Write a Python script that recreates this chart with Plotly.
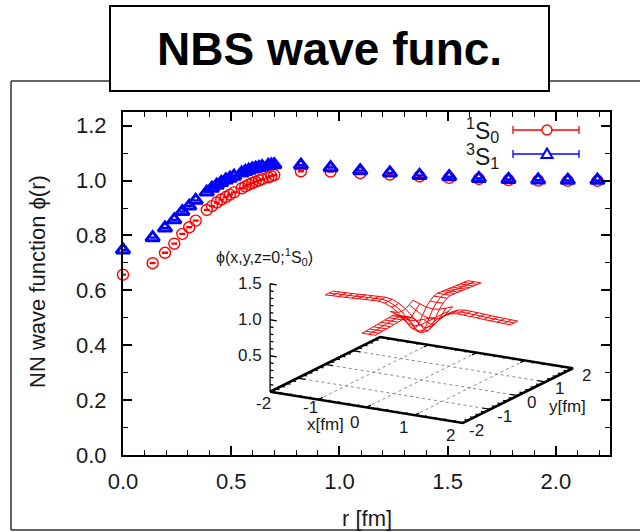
import numpy as np
import plotly.graph_objects as go

W, H = 640, 532
ML, MR, MT, MB = 123, 30, 112, 77
PW, PH = W - ML - MR, H - MT - MB


def PX(x):
    return (x - ML) / PW


def PY(y):
    return (H - MB - y) / PH


# ---------------- data ----------------
r_fm = [0.000, 0.137, 0.194, 0.237, 0.274, 0.306, 0.336, 0.387, 0.411, 0.433,
        0.454, 0.475, 0.494, 0.513, 0.548, 0.565, 0.581, 0.597, 0.613, 0.628,
        0.643, 0.671, 0.685, 0.699, 0.822, 0.959, 1.096, 1.233, 1.370, 1.507,
        1.644, 1.781, 1.918, 2.055, 2.192]
phi_1S0 = [0.657, 0.699, 0.737, 0.770, 0.806, 0.830, 0.854, 0.893, 0.907, 0.920,
           0.931, 0.940, 0.949, 0.957, 0.972, 0.979, 0.985, 0.991, 0.996, 1.001,
           1.005, 1.012, 1.016, 1.020, 1.034, 1.033, 1.027, 1.022, 1.015, 1.010,
           1.006, 1.002, 1.000, 0.999, 0.999]
phi_3S1 = [0.747, 0.792, 0.827, 0.857, 0.887, 0.907, 0.928, 0.958, 0.972, 0.983,
           0.993, 1.002, 1.009, 1.016, 1.028, 1.033, 1.038, 1.042, 1.045, 1.048,
           1.051, 1.055, 1.057, 1.058, 1.056, 1.047, 1.036, 1.028, 1.019, 1.014,
           1.008, 1.004, 1.002, 1.001, 1.001]
err_1S0 = [0.002] * len(r_fm)
err_3S1 = [0.002] * len(r_fm)

x_ticks = [0.0, 0.5, 1.0, 1.5, 2.0]
x_ticktext = ["0.0", "0.5", "1.0", "1.5", "2.0"]
y_ticks = [0.0, 0.2, 0.4, 0.6, 0.8, 1.0, 1.2]
y_ticktext = ["0.0", "0.2", "0.4", "0.6", "0.8", "1.0", "1.2"]

# inset: lattice of the z=0 plane (spacing in fm, half number of sites)
lat_a = 0.137
lat_n = 14
inset_z_ticks = [0.5, 1.0, 1.5]
inset_xy_ticks = [-2, -1, 0, 1, 2]

RED = "#ff0000"
BLUE = "#0000ff"
TXT = "#1a1a1a"
FONT = "Liberation Sans, Arial, Helvetica, sans-serif"

# ---------------- inset view (orthographic, like gnuplot "set view") --------
view_azim = np.radians(-60.3)
view_elev = np.radians(16.5)
scale_xy = 55.5      # px per fm
scale_z = 75.1       # px per unit of phi
ORIGIN = (421.5, 380.0)   # pixel position of (0,0,0) inside the figure


def proj(x, y, z):
    """project 3D inset coordinates to the (u, v) inset axis (pixels, v up)."""
    if x is None:
        return None, None
    sa, ca = np.sin(view_azim), np.cos(view_azim)
    se, ce = np.sin(view_elev), np.cos(view_elev)
    u = -sa * scale_xy * x + ca * scale_xy * y
    v = -ca * se * scale_xy * x - sa * se * scale_xy * y + ce * scale_z * z
    return float(u), float(v)


def proj_list(xs, ys, zs):
    us, vs = [], []
    for a, b, c in zip(xs, ys, zs):
        u, v = proj(a, b, c)
        us.append(u); vs.append(v)
    return us, vs


fig = go.Figure()

# ---------------- main data ----------------
fig.add_trace(go.Scatter(
    x=r_fm, y=phi_1S0, mode="markers", name="1S0",
    marker=dict(symbol="circle-open", size=11, color=RED, line=dict(width=1.4, color=RED)),
    error_y=dict(type="data", array=err_1S0, visible=True, color=RED, thickness=1.2, width=3),
    cliponaxis=False, showlegend=False))
fig.add_trace(go.Scatter(
    x=r_fm, y=phi_3S1, mode="markers", name="3S1",
    marker=dict(symbol="triangle-up-open", size=12, color=BLUE, line=dict(width=3, color=BLUE)),
    error_y=dict(type="data", array=err_3S1, visible=True, color=BLUE, thickness=1.2, width=3),
    cliponaxis=False, showlegend=False))

# ---------------- inset: base plane, grid, ticks, z axis ----------------
bx = [-2, 2, 2, -2, -2]
by = [-2, -2, 2, 2, -2]
floor_u, floor_v = proj_list(bx, by, [0] * 5)

gx, gy, gz = [], [], []
for t in inset_xy_ticks[1:-1]:
    gx += [t, t, None, -2, 2, None]
    gy += [-2, 2, None, t, t, None]
    gz += [0, 0, None, 0, 0, None]
grid_u, grid_v = proj_list(gx, gy, gz)

tx, ty, tz = [], [], []
for k in range(-10, 11):
    t = k * 0.2
    L = 0.16 if k % 5 == 0 else 0.08
    for e in (-2, 2):
        s = 1 if e == -2 else -1
        tx += [t, t, None]; ty += [e, e + s * L, None]; tz += [0, 0, None]
        tx += [e, e + s * L, None]; ty += [t, t, None]; tz += [0, 0, None]
for k in range(0, 16):
    t = k * 0.1
    L = 0.14 if k % 5 == 0 else 0.07
    tx += [-2, -2 + L, None]; ty += [-2, -2, None]; tz += [t, t, None]
tx += [-2, -2, None]; ty += [-2, -2, None]; tz += [0, 1.5, None]
tick_u, tick_v = proj_list(tx, ty, tz)

fig.add_trace(go.Scatter(x=grid_u, y=grid_v, mode="lines", xaxis="x2", yaxis="y2",
                         line=dict(color="#8a8a8a", width=1, dash="dot"),
                         hoverinfo="skip", showlegend=False))
fig.add_trace(go.Scatter(x=tick_u, y=tick_v, mode="lines", xaxis="x2", yaxis="y2",
                         line=dict(color="black", width=1.3),
                         hoverinfo="skip", showlegend=False))
fig.add_trace(go.Scatter(x=floor_u, y=floor_v, mode="lines", xaxis="x2", yaxis="y2",
                         line=dict(color="black", width=2.6),
                         hoverinfo="skip", showlegend=False))

# ---------------- inset: wire frame of phi(x,y,0) ----------------
r_arr = np.array(r_fm)
p_arr = np.array(phi_1S0)


def phi_site(i, j):
    rr = lat_a * np.hypot(i, j)
    return float(p_arr[np.argmin(np.abs(r_arr - rr))])


def inside(i, j):
    return abs(j) <= 1 or abs(i) <= 1 or (abs(i) <= 3 and abs(j) <= 3)


wx, wy, wz = [], [], []
idx = range(-lat_n, lat_n + 1)
for j in idx:
    for i in idx:
        if inside(i, j):
            wx.append(i * lat_a); wy.append(j * lat_a); wz.append(phi_site(i, j))
        else:
            wx.append(None); wy.append(None); wz.append(None)
    wx.append(None); wy.append(None); wz.append(None)
for i in idx:
    for j in idx:
        if inside(i, j):
            wx.append(i * lat_a); wy.append(j * lat_a); wz.append(phi_site(i, j))
        else:
            wx.append(None); wy.append(None); wz.append(None)
    wx.append(None); wy.append(None); wz.append(None)
wire_u, wire_v = proj_list(wx, wy, wz)
fig.add_trace(go.Scatter(x=wire_u, y=wire_v, mode="lines", xaxis="x2", yaxis="y2",
                         line=dict(color=RED, width=1), connectgaps=False,
                         hoverinfo="skip", showlegend=False))

shapes = []
# outer slide frame
for (x0, y0, x1, y1) in [(11, 81, 11, 530), (11, 81, 645, 81), (11, 530, 645, 530)]:
    shapes.append(dict(type="line", xref="paper", yref="paper",
                       x0=PX(x0), y0=PY(y0), x1=PX(x1), y1=PY(y1),
                       line=dict(color="#333333", width=1.5), layer="above"))
# title box
shapes.append(dict(type="rect", xref="paper", yref="paper",
                   x0=PX(110), y0=PY(91), x1=PX(549), y1=PY(6),
                   fillcolor="white", line=dict(color="black", width=2), layer="above"))
# legend samples
for yy, col in [(130, RED), (154, BLUE)]:
    shapes.append(dict(type="line", xref="paper", yref="paper",
                       x0=PX(513), y0=PY(yy), x1=PX(579), y1=PY(yy),
                       line=dict(color=col, width=1.3)))
    for xx in (513, 579):
        shapes.append(dict(type="line", xref="paper", yref="paper",
                           x0=PX(xx), y0=PY(yy - 4), x1=PX(xx), y1=PY(yy + 4),
                           line=dict(color=col, width=1.3)))
shapes.append(dict(type="circle", xref="paper", yref="paper",
                   xsizemode="pixel", ysizemode="pixel",
                   xanchor=PX(547), yanchor=PY(130), x0=-5, x1=5, y0=-5, y1=5,
                   line=dict(color=RED, width=1.4), fillcolor="white"))
shapes.append(dict(type="path", xref="paper", yref="paper",
                   xsizemode="pixel", ysizemode="pixel",
                   xanchor=PX(547), yanchor=PY(154),
                   path="M -5.5 -4 L 5.5 -4 L 0 5.5 Z",
                   line=dict(color=BLUE, width=2), fillcolor="white"))

ann = []


def A(text, x, y, size, xanchor="center", yanchor="middle", angle=0, bold=False, color=TXT):
    ann.append(dict(text=("<b>%s</b>" % text) if bold else text,
                    x=PX(x), y=PY(y), xref="paper", yref="paper",
                    showarrow=False, xanchor=xanchor, yanchor=yanchor,
                    textangle=angle, font=dict(size=size, color=color, family=FONT)))


A("NBS wave func.", 329.5, 49, 46, bold=True, color="black")
A("NN wave function \u03d5(r)", 37, 282, 22, angle=-90)
A("r [fm]", 367, 518, 22)
A("<sup>1</sup>S<sub>0</sub>", 501, 130, 23, xanchor="right")
A("<sup>3</sup>S<sub>1</sub>", 501, 156, 23, xanchor="right")
# inset labels
A("\u03d5(x,y,z=0;<sup>1</sup>S<sub>0</sub>)", 214, 257, 16, xanchor="left")
for t in inset_z_ticks:
    uu, vv = proj(-2, -2, t)
    A("%.1f" % t, ORIGIN[0] + uu - 6, ORIGIN[1] - vv, 17, xanchor="right")
for t in inset_xy_ticks:
    uu, vv = proj(t, -2, 0)
    if t != 0:
        dy = -4 if t == -1 else 0
        A("%d" % t, ORIGIN[0] + uu * 0.97 - 11, ORIGIN[1] - vv + 12 + dy, 17)
    uu, vv = proj(2, t, 0)
    A("%d" % t, ORIGIN[0] + uu + 14, ORIGIN[1] - vv + 7, 17)
A("x[fm]", 325, 424, 17)
A("0", 354, 422, 17)
A("y[fm]", 567, 406.7, 17)

fig.update_layout(
    width=W, height=H,
    margin=dict(l=ML, r=MR, t=MT, b=MB, pad=0),
    paper_bgcolor="white", plot_bgcolor="white",
    font=dict(family=FONT, color=TXT),
    showlegend=False,
    xaxis=dict(range=[0, 2.25], tickvals=x_ticks, ticktext=x_ticktext,
               ticks="inside", ticklen=9, tickwidth=1.5, tickcolor="black",
               showline=True, linewidth=2, linecolor="black", mirror="ticks",
               showgrid=False, zeroline=False, tickfont=dict(size=22, color=TXT),
               ticklabelstandoff=6,
               minor=dict(ticks="inside", ticklen=5, tickwidth=1.2, dtick=0.1, tick0=0,
                          tickcolor="black", showgrid=False)),
    yaxis=dict(range=[0, 1.25], tickvals=y_ticks, ticktext=y_ticktext,
               ticks="inside", ticklen=9, tickwidth=1.5, tickcolor="black",
               showline=True, linewidth=2, linecolor="black", mirror="ticks",
               showgrid=False, zeroline=False, tickfont=dict(size=22, color=TXT),
               ticklabelstandoff=10,
               minor=dict(ticks="inside", ticklen=5, tickwidth=1.2, dtick=0.1, tick0=0,
                          tickcolor="black", showgrid=False)),
    xaxis2=dict(overlaying="x", anchor="y2", visible=False,
                range=[ML - ORIGIN[0], ML + PW - ORIGIN[0]]),
    yaxis2=dict(overlaying="y", anchor="x2", visible=False,
                range=[ORIGIN[1] - (MT + PH), ORIGIN[1] - MT]),
    shapes=shapes, annotations=ann,
)

fig.write_html("out.html", config=dict(displayModeBar=False))
